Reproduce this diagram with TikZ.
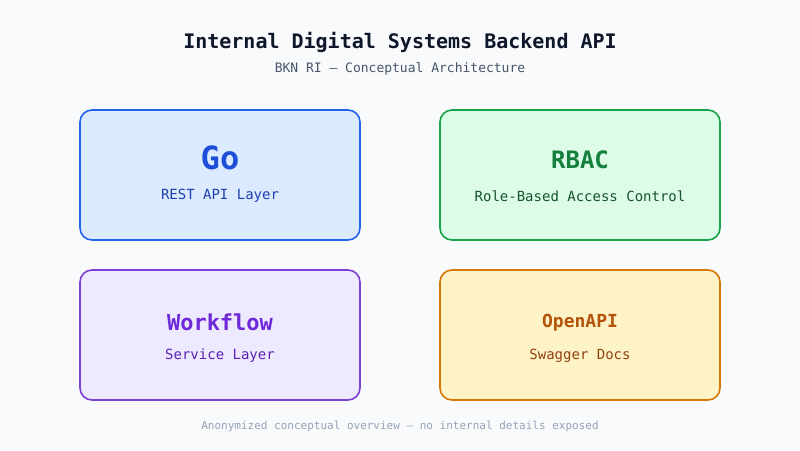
\documentclass[tikz,border=0pt]{standalone}
\usepackage{fontspec}
\setmainfont{DejaVu Sans Mono}
\definecolor{bgc}{HTML}{F8FAFC}
\definecolor{titlec}{HTML}{0F172A}
\definecolor{subc}{HTML}{475569}
\definecolor{footc}{HTML}{94A3B8}
\definecolor{goline}{HTML}{2563EB}\definecolor{gofill}{HTML}{DBEAFE}
\definecolor{gotext}{HTML}{1D4ED8}\definecolor{gosub}{HTML}{1E40AF}
\definecolor{rbline}{HTML}{16A34A}\definecolor{rbfill}{HTML}{DCFCE7}
\definecolor{rbtext}{HTML}{15803D}\definecolor{rbsub}{HTML}{14532D}
\definecolor{wfline}{HTML}{7E3FD4}\definecolor{wffill}{HTML}{EDE9FE}
\definecolor{wftext}{HTML}{6D28D9}\definecolor{wfsub}{HTML}{5B21B6}
\definecolor{oaline}{HTML}{D97706}\definecolor{oafill}{HTML}{FEF3C7}
\definecolor{oatext}{HTML}{B45309}\definecolor{oasub}{HTML}{92400E}
\tikzset{
  card/.style={line width=1.6pt,rounded corners=12pt},
  head/.style={font=\bfseries\fontsize{#1}{#1}\selectfont,anchor=center},
  sub/.style={font=\fontsize{14}{14}\selectfont,anchor=center}
}
\begin{document}
\begin{tikzpicture}[x=1pt,y=-1pt]
  \fill[bgc] (0,0) rectangle (800,450);
  \useasboundingbox (0,0) rectangle (800,450);
  \node[head=20,text=titlec] (title) at (400,42) {Internal Digital Systems Backend API};
  \node[font=\fontsize{13}{13}\selectfont,text=subc] (subtitle) at (400,69) {BKN RI — Conceptual Architecture};
  % cards
  \draw[card,draw=goline,fill=gofill] (80,110) rectangle (360,240);
  \node[head=32,text=gotext] (go) at (220,158) {Go};
  \node[sub,text=gosub] (gosubt) at (220,196) {REST API Layer};
  \draw[card,draw=rbline,fill=rbfill] (440,110) rectangle (720,240);
  \node[head=24,text=rbtext] (rbac) at (580,160) {RBAC};
  \node[sub,text=rbsub] (rbsubt) at (580,196) {Role-Based Access Control};
  \draw[card,draw=wfline,fill=wffill] (80,270) rectangle (360,400);
  \node[head=22,text=wftext] (wf) at (220,322) {Workflow};
  \node[sub,text=wfsub] (wfsubt) at (220,356) {Service Layer};
  \draw[card,draw=oaline,fill=oafill] (440,270) rectangle (720,400);
  \node[head=18,text=oatext] (oa) at (580,323) {OpenAPI};
  \node[sub,text=oasub] (oasubt) at (580,356) {Swagger Docs};
  \node[font=\fontsize{11}{11}\selectfont,text=footc] (foot) at (400,426) {Anonymized conceptual overview — no internal details exposed};
\end{tikzpicture}
\end{document}
